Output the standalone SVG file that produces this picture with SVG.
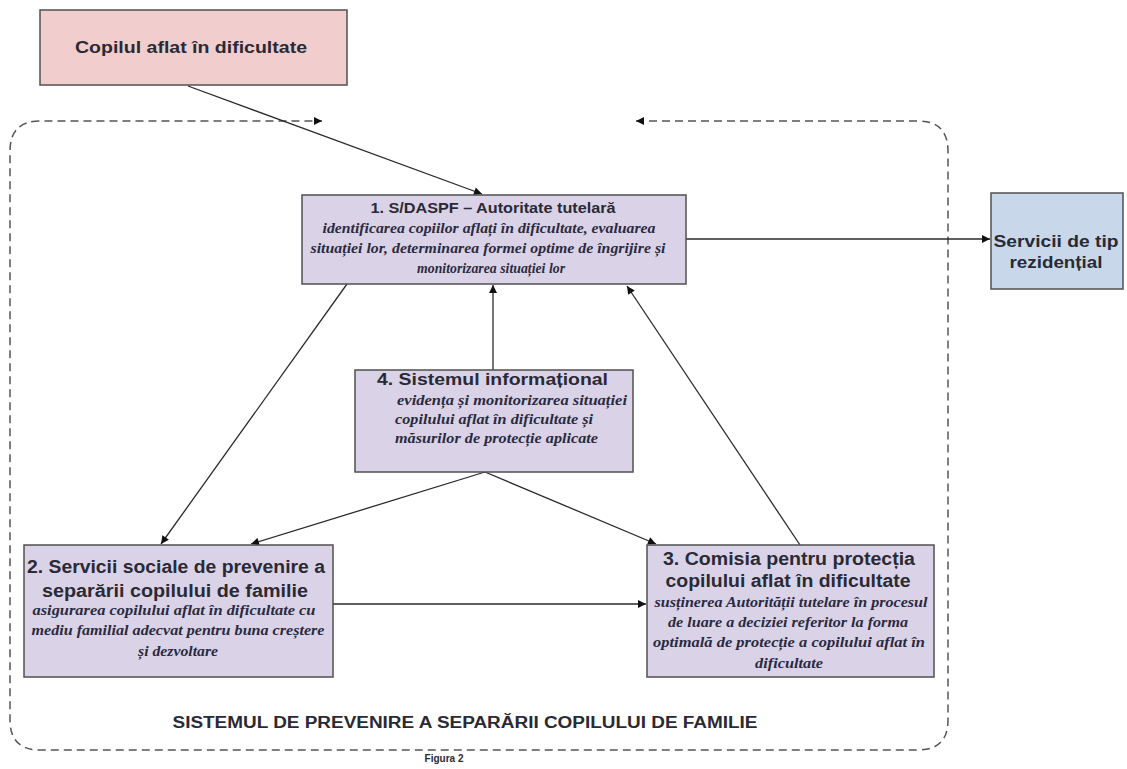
<svg xmlns="http://www.w3.org/2000/svg" width="1127" height="769" viewBox="0 0 1127 769">
<style>
.box{stroke:#505050;stroke-width:1.5}
.lav{fill:#dad3e8}
.pink{fill:#f2cdcd}
.blue{fill:#c8d8ea}
.t{font-family:"Liberation Sans",Arial,sans-serif;font-weight:bold;fill:#2a2a35;text-anchor:middle}
.i{font-family:"Liberation Serif","Times New Roman",serif;font-weight:bold;font-style:italic;fill:#2a2a40;text-anchor:middle;font-size:14px}
.c{stroke:#2a2a2a;stroke-width:1.3;fill:none;marker-end:url(#ah)}
.d{stroke:#555;stroke-width:1.5;fill:none;stroke-dasharray:8 5}
</style>
<defs>
<marker id="ah" viewBox="0 0 10 10" refX="10" refY="5" markerWidth="10" markerHeight="8" markerUnits="userSpaceOnUse" orient="auto-start-reverse">
<path d="M0,0 L10,5 L0,10 z" fill="#111"/>
</marker>
</defs>
<rect width="1127" height="769" fill="#fff"/>
<g id="connectors">
<path class="d" d="M636,121 L918,121 Q948,121 948,151 L948,720 Q948,750 918,750 L40,750 Q10,750 10,720 L10,151 Q10,121 40,121 L322,121" marker-start="url(#ah)" marker-end="url(#ah)"/>
<line class="c" x1="188" y1="86" x2="482" y2="194"/>
<line class="c" x1="686" y1="239" x2="990" y2="239"/>
<line class="c" x1="347" y1="284" x2="161" y2="544"/>
<line class="c" x1="493" y1="370" x2="493" y2="285"/>
<line class="c" x1="485" y1="472" x2="251" y2="544"/>
<line class="c" x1="485" y1="472" x2="656" y2="544"/>
<line class="c" x1="800" y1="545" x2="627" y2="286"/>
<line class="c" x1="333" y1="604" x2="646" y2="604"/>
</g>
<g id="copil">
<rect class="box pink" x="40" y="10" width="307" height="75"/>
<text class="t" x="191" y="53" font-size="17" textLength="232" lengthAdjust="spacingAndGlyphs">Copilul aflat în dificultate</text>
</g>
<g id="n1">
<rect class="box lav" x="302" y="195" width="384" height="89"/>
<text class="t" x="493" y="213" font-size="14" textLength="245" lengthAdjust="spacingAndGlyphs">1. S/DASPF – Autoritate tutelară</text>
<text class="i" x="489" y="233" textLength="333" lengthAdjust="spacingAndGlyphs">identificarea copiilor aflați în dificultate, evaluarea</text>
<text class="i" x="488" y="253" textLength="355" lengthAdjust="spacingAndGlyphs">situației lor, determinarea formei optime de îngrijire și</text>
<text class="i" x="491" y="273" textLength="148" lengthAdjust="spacingAndGlyphs">monitorizarea situației lor</text>
</g>
<g id="rez">
<rect class="box blue" x="991" y="193" width="132" height="96"/>
<text class="t" x="1056" y="247" font-size="16" textLength="125" lengthAdjust="spacingAndGlyphs">Servicii de tip</text>
<text class="t" x="1056" y="268" font-size="16" textLength="93" lengthAdjust="spacingAndGlyphs">rezidențial</text>
</g>
<g id="n4">
<rect class="box lav" x="355" y="370" width="278" height="102"/>
<text class="t" x="377" y="385" font-size="17" style="text-anchor:start" textLength="231" lengthAdjust="spacingAndGlyphs">4. Sistemul informațional</text>
<text class="i" x="397" y="405" style="text-anchor:start" textLength="230" lengthAdjust="spacingAndGlyphs">evidența și monitorizarea situației</text>
<text class="i" x="395" y="424" style="text-anchor:start" textLength="198" lengthAdjust="spacingAndGlyphs">copilului aflat în dificultate și</text>
<text class="i" x="395" y="443" style="text-anchor:start" textLength="203" lengthAdjust="spacingAndGlyphs">măsurilor de protecție aplicate</text>
</g>
<g id="n2">
<rect class="box lav" x="24" y="545" width="309" height="132"/>
<text class="t" x="176" y="573" font-size="17.5" textLength="298" lengthAdjust="spacingAndGlyphs">2. Servicii sociale de prevenire a</text>
<text class="t" x="175" y="597" font-size="17.5" textLength="266" lengthAdjust="spacingAndGlyphs">separării copilului de familie</text>
<text class="i" x="174" y="615" textLength="283" lengthAdjust="spacingAndGlyphs">asigurarea copilului aflat în dificultate cu</text>
<text class="i" x="178" y="635" textLength="293" lengthAdjust="spacingAndGlyphs">mediu familial adecvat pentru buna creștere</text>
<text class="i" x="178" y="656" textLength="80" lengthAdjust="spacingAndGlyphs">și dezvoltare</text>
</g>
<g id="n3">
<rect class="box lav" x="647" y="545" width="287" height="132"/>
<text class="t" x="789" y="565" font-size="17.5" textLength="252" lengthAdjust="spacingAndGlyphs">3. Comisia pentru protecția</text>
<text class="t" x="788" y="587" font-size="17.5" textLength="245" lengthAdjust="spacingAndGlyphs">copilului aflat în dificultate</text>
<text class="i" x="791" y="607" textLength="273" lengthAdjust="spacingAndGlyphs">susținerea Autorității tutelare în procesul</text>
<text class="i" x="788" y="627" textLength="240" lengthAdjust="spacingAndGlyphs">de luare a deciziei referitor la forma</text>
<text class="i" x="789" y="647" textLength="272" lengthAdjust="spacingAndGlyphs">optimală de protecție  a copilului aflat în</text>
<text class="i" x="789" y="668" textLength="68" lengthAdjust="spacingAndGlyphs">dificultate</text>
</g>
<g id="labels">
<text class="t" x="465" y="728" font-size="16" textLength="585" lengthAdjust="spacingAndGlyphs">SISTEMUL DE PREVENIRE A SEPARĂRII COPILULUI DE FAMILIE</text>
<text class="t" x="444" y="762" font-size="10">Figura 2</text>
</g>
</svg>
